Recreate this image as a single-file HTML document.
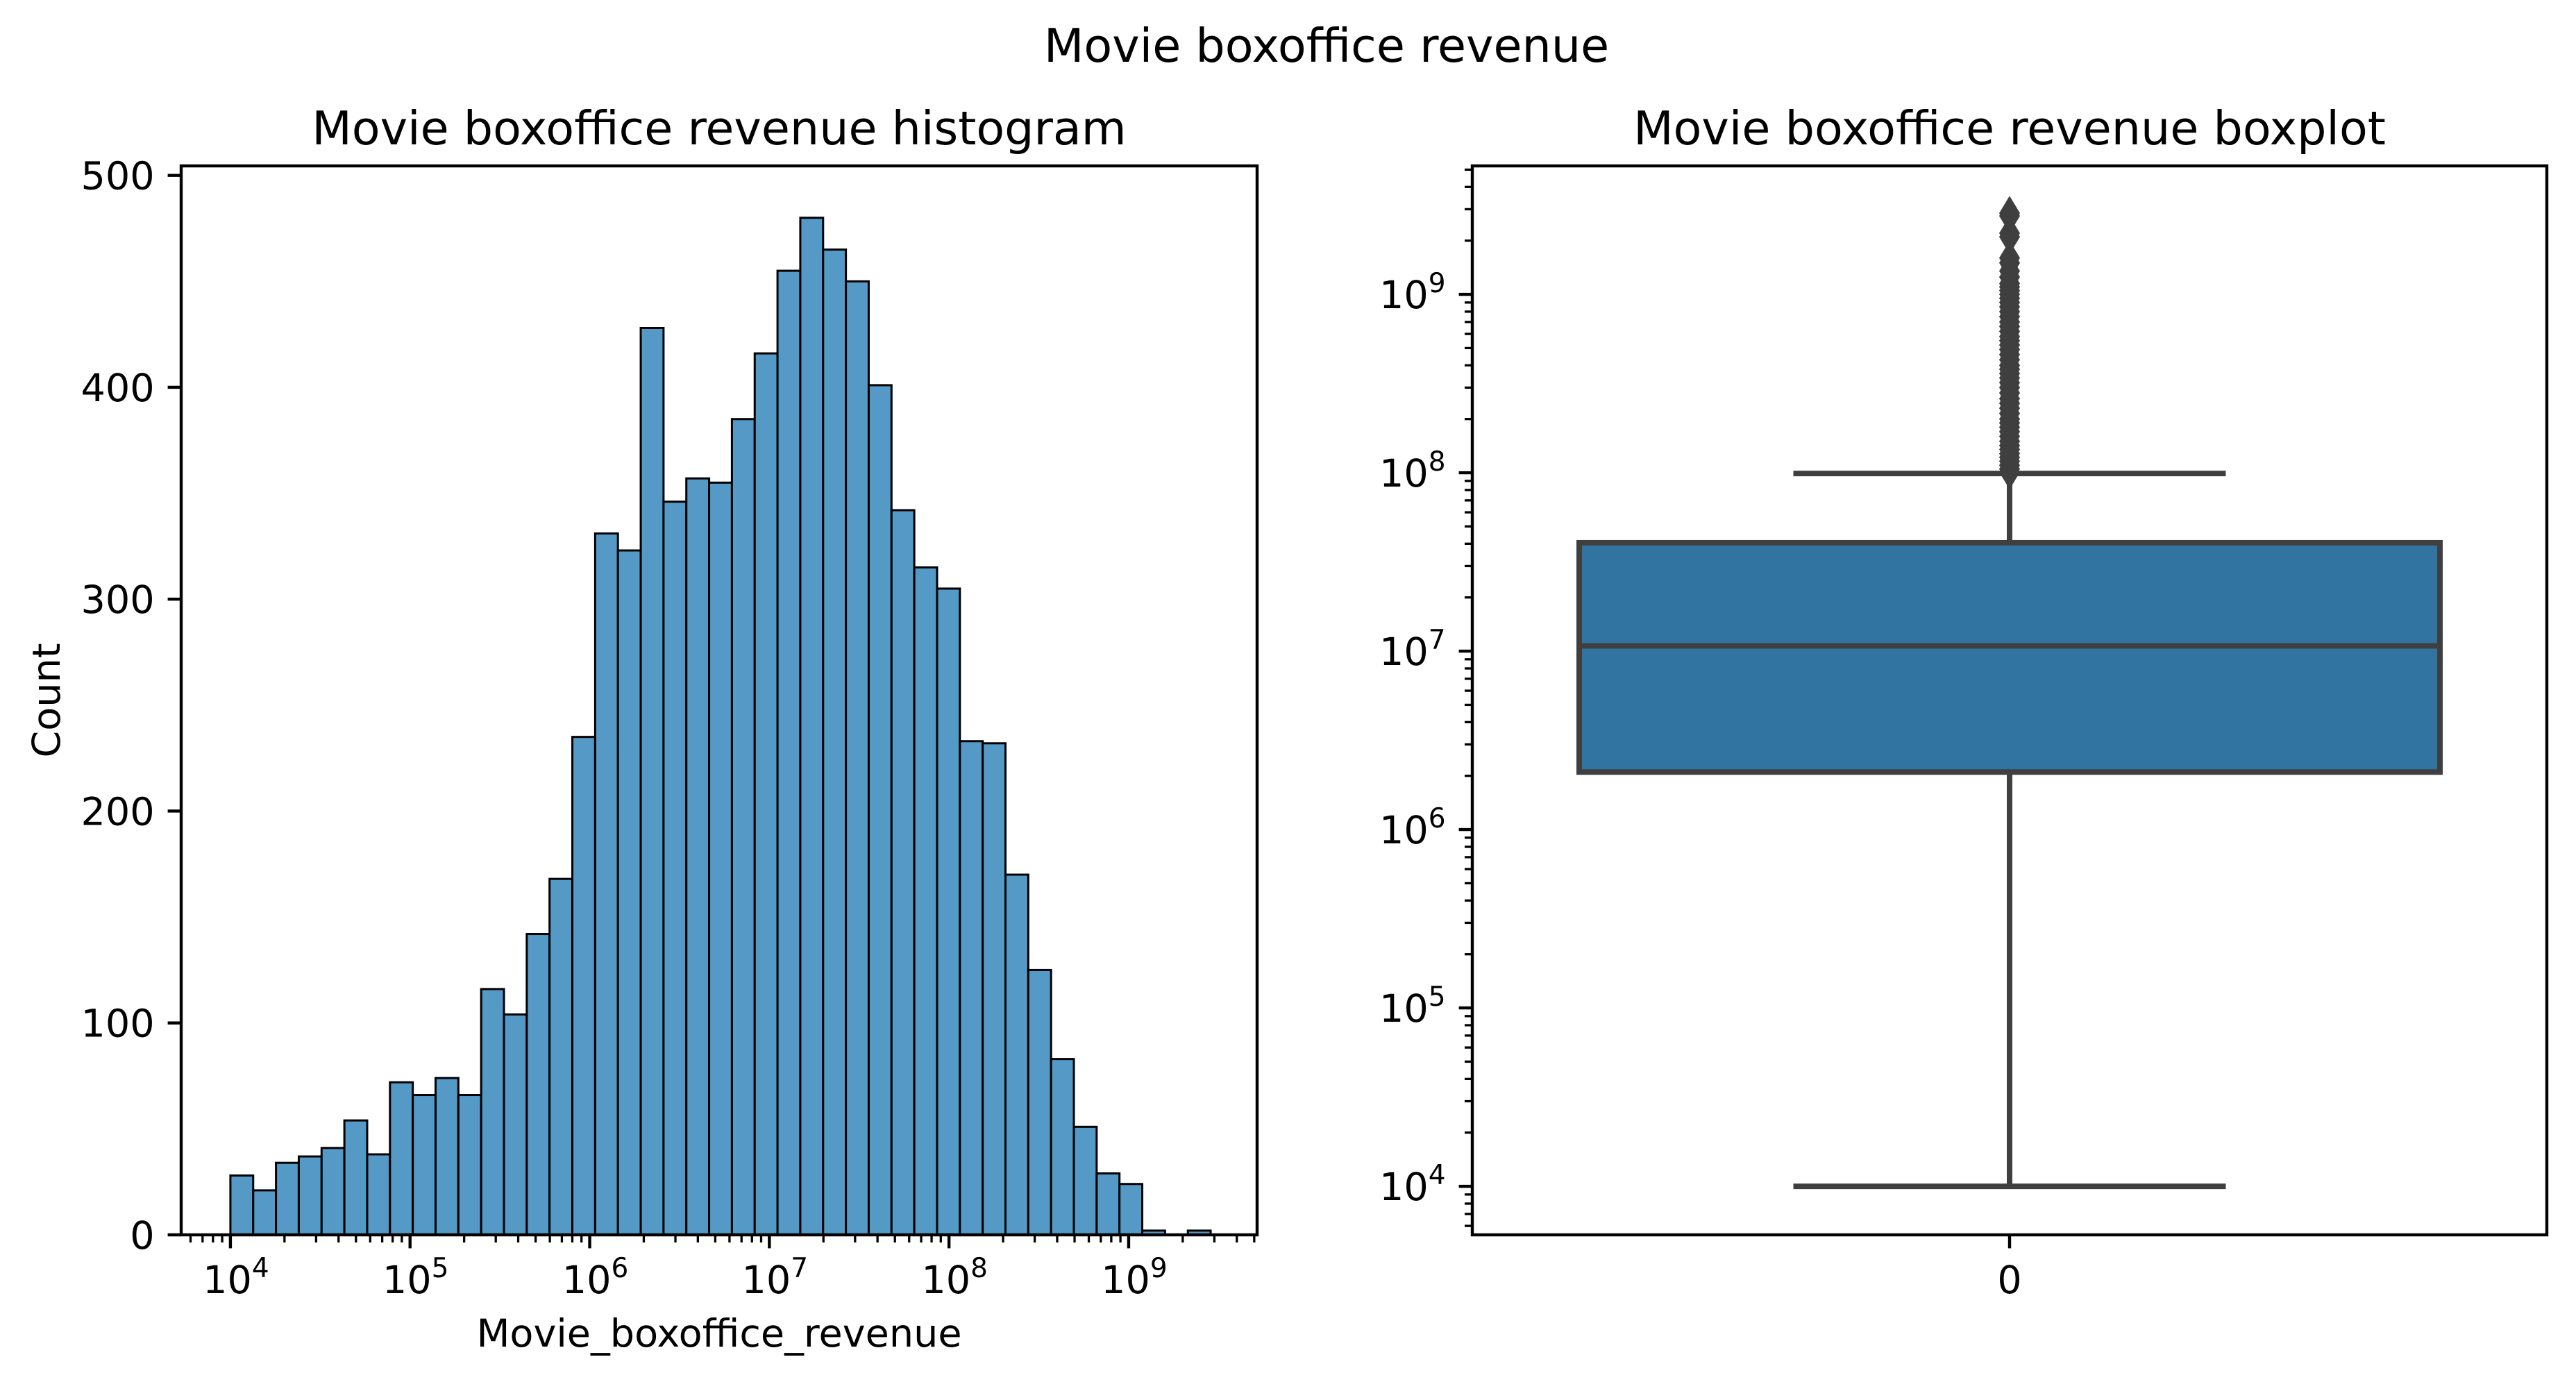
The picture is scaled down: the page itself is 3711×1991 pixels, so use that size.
<!DOCTYPE html>
<html><head><meta charset="utf-8"><style>
html,body{margin:0;padding:0;background:#fff;}
svg{display:block;}
text{font-family:"DejaVu Sans","Liberation Sans",sans-serif;fill:#000;}
</style></head><body>
<svg id="fig" width="3711" height="1991" viewBox="0 0 3711 1991" xmlns="http://www.w3.org/2000/svg">
<rect width="3711" height="1991" fill="#fff"/>
<text x="1911" y="89" font-size="66.7" text-anchor="middle">Movie boxoffice revenue</text>
<text x="1036" y="208" font-size="66.7" text-anchor="middle">Movie boxoffice revenue histogram</text>
<text x="2895" y="208" font-size="66.7" text-anchor="middle">Movie boxoffice revenue boxplot</text>
<g id="hist"></g>
<g id="box"></g>
</svg>
<script>
// Histogram data
const binStartLog = 4;
const binWidthLog = (Math.log10(2.86e9) - 4) / 43;
const counts = [28,21,34,37,41,54,38,72,66,74,66,116,104,142,168,235,331,323,428,346,357,355,385,416,455,480,465,450,401,342,315,305,233,232,170,125,83,51,29,24,2,0,2];
const countTicks = [0,100,200,300,400,500];
const decadeTicks = [4,5,6,7,8,9];
// Boxplot data
const boxStats = {whiskerLow:1e4, q1:2.1e6, median:1.07e7, q3:4.05e7, whiskerHigh:9.9e7};
const outliers = [2.85e9,2.75e9,2.2e9,2.1e9,1.6e9,1.5e9,1.35e9,1.25e9,1.15e9,1.1e9,1.05e9,1.0e9,9.5e8,9e8,8.5e8,8e8,7.5e8,7e8,6.6e8,6.2e8,5.8e8,5.5e8,5.2e8,4.9e8,4.6e8,4.3e8,4.0e8,3.8e8,3.6e8,3.4e8,3.2e8,3.0e8,2.8e8,2.6e8,2.45e8,2.3e8,2.15e8,2.0e8,1.9e8,1.8e8,1.7e8,1.6e8,1.5e8,1.42e8,1.35e8,1.28e8,1.22e8,1.16e8,1.1e8,1.05e8,1.01e8];
const boxCategories = ["0"];

const NS="http://www.w3.org/2000/svg";
const FS=55.6, MAJ=19.4, MIN=11, LW=4.4, BLW=8;
function mk(parent,tag,attrs){const e=document.createElementNS(NS,tag);for(const k in attrs)e.setAttribute(k,attrs[k]);parent.appendChild(e);return e;}
function sup(parent,x,y,anchor,base,exp,name){
  const t=mk(parent,'text',{x:x,y:y,'font-size':FS,'text-anchor':anchor});
  
  
  const a=document.createElementNS(NS,'tspan');a.textContent=base;t.appendChild(a);
  const b=document.createElementNS(NS,'tspan');b.setAttribute('dy','-23');b.setAttribute('font-size','39');b.textContent=exp;t.appendChild(b);
  return t;
}
// ---------- Histogram ----------
const H={l:261,r:1811,t:239,b:1779};
const hxMin=3.726,hxMax=9.715;
const hx=v=>H.l+(v-hxMin)/(hxMax-hxMin)*(H.r-H.l);
const hy=c=>H.b-c*3.0526;
const hg=document.getElementById('hist');
counts.forEach((c,i)=>{
  if(c<=0)return;
  const x0=hx(binStartLog+i*binWidthLog),x1=hx(binStartLog+(i+1)*binWidthLog);
  const r=mk(hg,'rect',{x:x0,y:hy(c),width:x1-x0,height:H.b-hy(c),fill:'#5599c7',stroke:'#000','stroke-width':3});
  
  
});
countTicks.forEach(c=>{
  const y=hy(c);
  mk(hg,'line',{x1:H.l-MAJ,x2:H.l,y1:y,y2:y,stroke:'#000','stroke-width':LW});
  const t=mk(hg,'text',{x:H.l-MAJ-19,y:y+20,'font-size':FS,'text-anchor':'end'});t.textContent=c;
  
  
});
for(let d=3;d<=9;d++){for(let m=2;m<=9;m++){const v=d+Math.log10(m);if(v>hxMin&&v<hxMax){const x=hx(v);mk(hg,'line',{x1:x,x2:x,y1:H.b,y2:H.b+MIN,stroke:'#000','stroke-width':3.3});}}}
decadeTicks.forEach(d=>{
  const x=hx(d);
  mk(hg,'line',{x1:x,x2:x,y1:H.b,y2:H.b+MAJ,stroke:'#000','stroke-width':LW});
  sup(hg,x+8,1863,'middle','10',String(d),'x-tick-label');
});
mk(hg,'rect',{x:H.l,y:H.t,width:H.r-H.l,height:H.b-H.t,fill:'none',stroke:'#000','stroke-width':LW});
{const t=mk(hg,'text',{x:1036,y:1940,'font-size':FS,'text-anchor':'middle'});t.textContent='Movie_boxoffice_revenue';

}
{const t=mk(hg,'text',{x:0,y:0,'font-size':FS,'text-anchor':'middle',transform:'translate(86,1009) rotate(-90)'});t.textContent='Count';

}
// ---------- Boxplot ----------
const B={l:2121,r:3669,t:239,b:1779};
const byMin=3.728,byMax=9.72;
const by=v=>B.b-(Math.log10(v)-byMin)/(byMax-byMin)*(B.b-B.t);
const bg=document.getElementById('box');
const cx=(B.l+B.r)/2, bw=1240, cw=623;
const col='#3f3f3f';
{const l=mk(bg,'line',{x1:cx,x2:cx,y1:by(boxStats.whiskerLow),y2:by(boxStats.q1),stroke:col,'stroke-width':BLW});

}
{const l=mk(bg,'line',{x1:cx,x2:cx,y1:by(boxStats.q3),y2:by(boxStats.whiskerHigh),stroke:col,'stroke-width':BLW});

}
{const l=mk(bg,'line',{x1:cx-cw/2,x2:cx+cw/2,y1:by(boxStats.whiskerLow),y2:by(boxStats.whiskerLow),stroke:col,'stroke-width':BLW});

}
{const l=mk(bg,'line',{x1:cx-cw/2,x2:cx+cw/2,y1:by(boxStats.whiskerHigh),y2:by(boxStats.whiskerHigh),stroke:col,'stroke-width':BLW});

}
{const r=mk(bg,'rect',{x:cx-bw/2,y:by(boxStats.q3),width:bw,height:by(boxStats.q1)-by(boxStats.q3),fill:'#3274a1',stroke:col,'stroke-width':BLW});

}
{const l=mk(bg,'line',{x1:cx-bw/2,x2:cx+bw/2,y1:by(boxStats.median),y2:by(boxStats.median),stroke:col,'stroke-width':BLW});

}
outliers.forEach(v=>{
  const y=by(v);
  const p=mk(bg,'polygon',{points:`${cx},${y-25} ${cx+15},${y} ${cx},${y+25} ${cx-15},${y}`,fill:col});
  
  
});
for(let d=3;d<=9;d++){for(let m=2;m<=9;m++){const v=d+Math.log10(m);if(v>byMin&&v<byMax){const y=by(Math.pow(10,v));mk(bg,'line',{x1:B.l-MIN,x2:B.l,y1:y,y2:y,stroke:'#000','stroke-width':3.3});}}}
decadeTicks.forEach(d=>{
  const y=by(Math.pow(10,d));
  mk(bg,'line',{x1:B.l-MAJ,x2:B.l,y1:y,y2:y,stroke:'#000','stroke-width':LW});
  sup(bg,B.l-MAJ-19,y+20,'end','10',String(d),'y-tick-label');
});
boxCategories.forEach(c=>{
  mk(bg,'line',{x1:cx,x2:cx,y1:B.b,y2:B.b+MAJ,stroke:'#000','stroke-width':LW});
  const t=mk(bg,'text',{x:cx,y:1863,'font-size':FS,'text-anchor':'middle'});t.textContent=c;
  
  
});
mk(bg,'rect',{x:B.l,y:B.t,width:B.r-B.l,height:B.b-B.t,fill:'none',stroke:'#000','stroke-width':LW});
</script>
</body></html>
